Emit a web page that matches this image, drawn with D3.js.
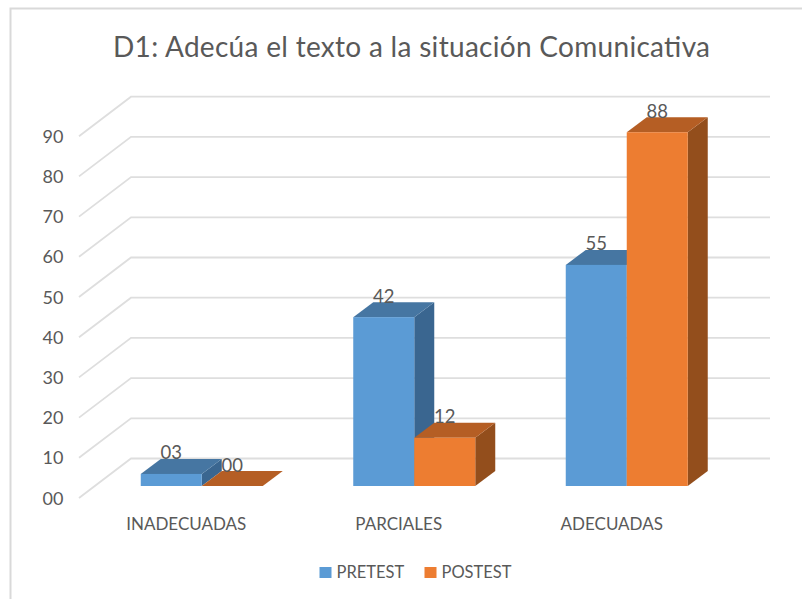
<!DOCTYPE html>
<html><head><meta charset="utf-8">
<style>html,body{margin:0;padding:0;background:#fff}svg{display:block}text{font-family:Lato,"Open Sans",sans-serif;fill:#595959}</style>
<script src="https://cdn.jsdelivr.net/npm/d3@7"></script></head>
<body><svg id="c" width="802" height="599"></svg>
<script>
const categories=["INADECUADAS","PARCIALES","ADECUADAS"];
const seriesNames=["PRETEST","POSTEST"];
const pretest=[3,42,55];
const postest=[0,12,88];
const pretestLabels=["03","42","55"];
const postestLabels=["00","12","88"];
const ticks=[0,10,20,30,40,50,60,70,80,90];
const tickLabels=["00","10","20","30","40","50","60","70","80","90"];
const colors={PRETEST:{front:"#5b9bd5",top:"#4676a2",side:"#3a6690"},POSTEST:{front:"#ed7d31",top:"#b55e24",side:"#934e1c"}};

const svg=d3.select("#c");
svg.append("path").attr("d","M802,8.5H10.5V599").attr("fill","none").attr("stroke","#d9d9d9").attr("stroke-width",2);
svg.append("text").attr("x",411.5).attr("y",57).attr("text-anchor","middle").attr("font-size",28).attr("textLength",597).text("D1: Adecúa el texto a la situación Comunicativa");

const y=d3.scaleLinear().domain([0,90]).range([486,124.2]);
const x0=d3.scaleBand().domain(categories).range([95.5,733]);
const x1=d3.scaleBand().domain(seriesNames).range([0,122]);
const floorDrop=12, wallDx=52, wallDy=39.5, dx=20, dy=15, right=770;
const pad=(x0.bandwidth()-x1.range()[1])/2;

const grid=svg.append("g");
ticks.forEach((t,i)=>{
  const yf=y(t)+floorDrop;
  grid.append("path").attr("d",d3.line()([[79,yf],[79+wallDx,yf-wallDy],[right,yf-wallDy]]))
    .attr("fill","none").attr("stroke","#dedede").attr("stroke-width",1.8);
  svg.append("text").attr("x",63.5).attr("y",yf+6.5).attr("text-anchor","end").attr("font-size",18).text(tickLabels[i]);
});

function bar(cat,name,v,label){
  const c=colors[name];
  const xl=x0(cat)+pad+x1(name), w=x1.bandwidth(), yb=y(0), yt=y(v);
  const g=svg.append("g");
  g.append("polygon").attr("points",[[xl+w,yt],[xl+w+dx,yt-dy],[xl+w+dx,yb-dy],[xl+w,yb]].join(" ")).attr("fill",c.side);
  g.append("polygon").attr("points",[[xl,yt],[xl+dx,yt-dy],[xl+w+dx,yt-dy],[xl+w,yt]].join(" ")).attr("fill",c.top);
  g.append("rect").attr("x",xl).attr("y",yt).attr("width",w).attr("height",yb-yt).attr("fill",c.front);
  return {x:xl+w/2,y:yt-dy+0.5,label};
}
const labels=[];
const catOffset=[-15.5,-15.5,-15];
categories.forEach((cat,i)=>{
  labels.push(bar(cat,"PRETEST",pretest[i],pretestLabels[i]));
  labels.push(bar(cat,"POSTEST",postest[i],postestLabels[i]));
  svg.append("text").attr("x",x0(cat)+x0.bandwidth()/2+catOffset[i]).attr("y",530).attr("text-anchor","middle").attr("font-size",17).text(cat);
});
labels.forEach(l=>svg.append("text").attr("x",l.x).attr("y",l.y).attr("text-anchor","middle").attr("font-size",18.5).text(l.label));

const lx=[319.5,424.5];
seriesNames.forEach((n,i)=>{
  svg.append("rect").attr("x",lx[i]).attr("y",567).attr("width",12).attr("height",11).attr("fill",colors[n].front);
  svg.append("text").attr("x",lx[i]+17).attr("y",578).attr("font-size",16.5).text(n);
});
</script></body></html>
